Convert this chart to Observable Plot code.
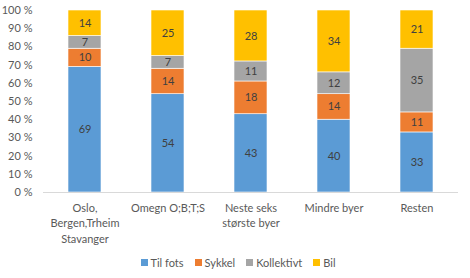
<!DOCTYPE html>
<html>
<head>
<meta charset="utf-8">
<script src="https://cdn.jsdelivr.net/npm/d3@7"></script>
<script src="https://cdn.jsdelivr.net/npm/@observablehq/plot@0.6"></script>
<style>
  html, body { margin: 0; padding: 0; background: #fff; }
  #chart { width: 470px; height: 278px; position: relative; font-family: Lato, "Open Sans", sans-serif; }
  .legend { display: flex; justify-content: center; gap: 11px; font-size: 11px; color: #595959; margin-top: 4px; padding-left: 6px; }
  .legend span { display: inline-flex; align-items: center; }
  .legend i { display: inline-block; width: 7px; height: 7px; margin-right: 3px; }
</style>
</head>
<body>
<div id="chart"></div>
<script>
// Travel mode shares (%) by area type
const areas = ["Oslo,\nBergen,Trheim\nStavanger", "Omegn O;B;T;S", "Neste seks\nstørste byer", "Mindre byer", "Resten"];
const modes = ["Til fots", "Sykkel", "Kollektivt", "Bil"];
const tilFots   = [69, 54, 43, 40, 33];
const sykkel    = [10, 14, 18, 14, 11];
const kollektiv = [7, 7, 11, 12, 35];
const bil       = [14, 25, 28, 34, 21];
const colors = ["#5B9BD5", "#ED7D31", "#A5A5A5", "#FFC000"];
const yTicks = [0, 10, 20, 30, 40, 50, 60, 70, 80, 90, 100];

const series = [tilFots, sykkel, kollektiv, bil];
const rows = [];
areas.forEach((area, i) => {
  modes.forEach((mode, j) => rows.push({area, mode, value: series[j][i]}));
});

const plot = Plot.plot({
  width: 470,
  height: 252,
  marginTop: 10,
  marginBottom: 60,
  marginLeft: 43,
  marginRight: 12,
  style: {fontFamily: "Lato, 'Open Sans', sans-serif", fontSize: "11px", color: "#595959", overflow: "visible"},
  x: {domain: areas, paddingInner: 0.6, paddingOuter: 0.3, label: null},
  y: {domain: [0, 100], label: null},
  color: {domain: modes, range: colors},
  marks: [
    Plot.axisX({tickSize: 0, tickPadding: 8, lineHeight: 1.42, fontSize: 11}),
    Plot.axisY({ticks: yTicks, tickFormat: d => `${d} %`, tickSize: 0, tickPadding: 11, fontSize: 11}),
    Plot.barY(rows, {x: "area", y: "value", fill: "mode", order: modes, stroke: "white", strokeWidth: 0.6}),
    Plot.text(rows, Plot.stackY({x: "area", y: "value", z: "mode", order: modes, text: "value", fill: "#404040", fontSize: 11})),
    Plot.ruleY([0], {stroke: "#D9D9D9", strokeWidth: 1})
  ]
});
document.getElementById("chart").appendChild(plot);

// Legend below the plot
const legend = document.createElement("div");
legend.className = "legend";
modes.forEach((m, j) => {
  const s = document.createElement("span");
  s.innerHTML = `<i style="background:${colors[j]}"></i>${m}`;
  legend.appendChild(s);
});
document.getElementById("chart").appendChild(legend);
</script>
</body>
</html>
